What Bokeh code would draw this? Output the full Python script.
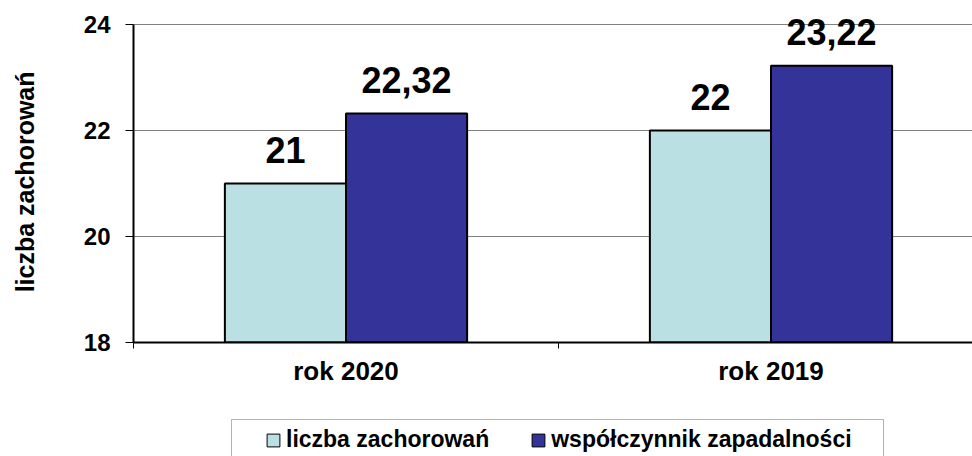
from bokeh.plotting import figure
from bokeh.layouts import column
from bokeh.models import Range1d, FixedTicker, Legend, LegendItem, BoxAnnotation, ColumnDataSource
from bokeh.core.properties import value
from bokeh.embed import file_html
from bokeh.resources import INLINE

categories = ["rok 2020", "rok 2019"]
series_names = ["liczba zachorowań", "współczynnik zapadalności"]
y_axis_title = "liczba zachorowań"
cases = [21, 22]
incidence = [22.32, 23.22]
y_ticks = [18, 20, 22, 24]
colors = ["#BBE0E3", "#333399"]

FONT = "Liberation Sans"
bar_w = 0.285

W = 972
LEFT = 133
MAIN_H = 400
LEG_H = 56
FRAME_H = 342
PX_PER_UNIT = 53.0

p = figure(width=W, height=MAIN_H, output_backend="svg", toolbar_location=None,
           x_range=Range1d(0, (W - LEFT) / 425),
           y_range=Range1d(y_ticks[0], y_ticks[0] + FRAME_H / PX_PER_UNIT),
           min_border_left=LEFT, min_border_right=0, min_border_top=0,
           min_border_bottom=MAIN_H - FRAME_H)
p.outline_line_color = None
p.background_fill_color = "white"

sources = []
for k, (vals, col) in enumerate(zip([cases, incidence], colors)):
    xs = [i + 0.5 + (k - 0.5) * bar_w for i in range(len(categories))]
    labels = [f"{v:g}".replace(".", ",") for v in vals]
    src = ColumnDataSource(dict(x=xs, top=vals, label=labels))
    sources.append(src)
    p.vbar(x="x", top="top", bottom=y_ticks[0], width=bar_w, source=src,
           fill_color=col, line_color="black", line_width=2)
    p.text(x="x", y="top", text="label", source=src, text_align="center",
           text_baseline="alphabetic", y_offset=-34, text_font=value(FONT),
           text_font_style="bold", text_font_size="36px", text_color="black")

# y axis (label padded with no-break spaces so it centres on the 18-24 span)
p.yaxis.ticker = FixedTicker(ticks=y_ticks)
p.yaxis.bounds = (y_ticks[0], y_ticks[-1])
p.yaxis.axis_label = y_axis_title + "\u00a0" * 3
p.yaxis.axis_label_text_font = FONT
p.yaxis.axis_label_text_font_style = "bold"
p.yaxis.axis_label_text_font_size = "25px"
p.yaxis.axis_label_text_color = "black"
p.yaxis.axis_label_standoff = 42
p.yaxis.major_label_text_font = FONT
p.yaxis.major_label_text_font_style = "bold"
p.yaxis.major_label_text_font_size = "24px"
p.yaxis.major_label_text_color = "black"
p.yaxis.major_label_standoff = 15
p.yaxis.major_tick_in = 0
p.yaxis.major_tick_out = 8
p.yaxis.major_tick_line_color = "black"
p.yaxis.minor_tick_line_color = None
p.yaxis.axis_line_color = "black"
p.yaxis.axis_line_width = 2

# x axis
p.xaxis.ticker = FixedTicker(ticks=[i + 0.5 for i in range(len(categories))],
                             minor_ticks=list(range(len(categories) + 1)))
p.xaxis.major_label_overrides = {i + 0.5: c for i, c in enumerate(categories)}
p.xaxis.major_label_text_font = FONT
p.xaxis.major_label_text_font_style = "bold"
p.xaxis.major_label_text_font_size = "26px"
p.xaxis.major_label_text_color = "black"
p.xaxis.major_label_standoff = 7
p.xaxis.major_tick_in = 0
p.xaxis.major_tick_out = 0
p.xaxis.minor_tick_in = 0
p.xaxis.minor_tick_out = 6
p.xaxis.minor_tick_line_color = "black"
p.xaxis.axis_line_color = "black"
p.xaxis.axis_line_width = 2

p.xgrid.grid_line_color = None
p.ygrid.ticker = FixedTicker(ticks=y_ticks[1:])
p.ygrid.grid_line_color = "#808080"
p.ygrid.grid_line_width = 1

# legend strip below the chart; its data space is in page pixels
lf = figure(width=W, height=LEG_H, output_backend="svg", toolbar_location=None,
            x_range=Range1d(LEFT, W), y_range=Range1d(0, LEG_H),
            x_axis_type=None, y_axis_type=None,
            min_border_left=LEFT, min_border_right=0, min_border_top=0, min_border_bottom=0)
lf.outline_line_color = None
lf.xgrid.visible = False
lf.ygrid.visible = False
leg_renderers = []
for src, col in zip(sources, colors):
    r = lf.vbar(x="x", top="top", bottom=y_ticks[0], width=bar_w, source=src,
                fill_color=col, line_color="black", line_width=1, visible=False)
    leg_renderers.append(r)

legend = Legend(items=[LegendItem(label=n, renderers=[r]) for n, r in zip(series_names, leg_renderers)],
                orientation="horizontal", location=(265 - LEFT, 3),
                padding=5, spacing=41, label_standoff=5, margin=0,
                glyph_width=16, glyph_height=16,
                label_text_font=FONT, label_text_font_style="bold",
                label_text_font_size="23px", label_text_color="black",
                border_line_color=None, background_fill_alpha=0,
                inactive_fill_alpha=0, click_policy="none")
lf.add_layout(legend, "center")

box = BoxAnnotation(left=231, right=883, top=LEG_H - 19, bottom=-5,
                    fill_alpha=0, line_color="black", line_width=1)
lf.add_layout(box)

layout = column(p, lf, spacing=0)
open("out.html", "w").write(file_html(layout, INLINE))
